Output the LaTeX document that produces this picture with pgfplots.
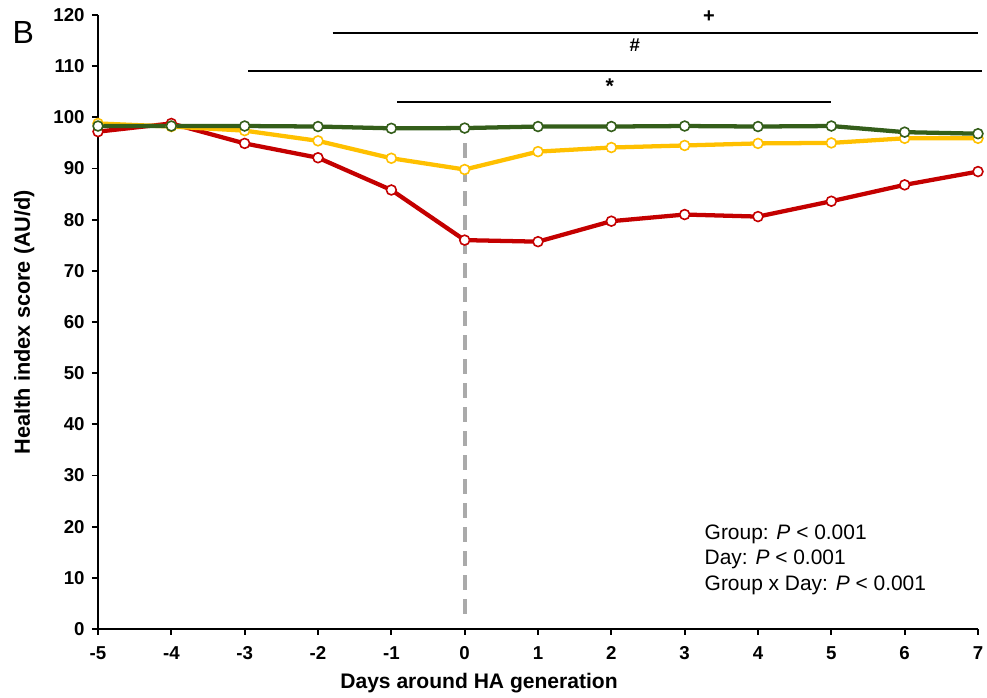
\documentclass[border=0pt]{standalone}
\usepackage{fontspec}
\setmainfont{Liberation Sans}
\usepackage{pgfplots}
\pgfplotsset{compat=1.18}
\definecolor{cred}{RGB}{196,0,0}
\definecolor{cyel}{RGB}{255,192,0}
\definecolor{cgrn}{RGB}{52,94,26}
\definecolor{cgray}{RGB}{170,170,170}
\begin{document}
\begin{tikzpicture}
\begin{axis}[name=ax, scale only axis, width=660pt, height=460.5pt,
  xmin=-5, xmax=7, ymin=0, ymax=120,
  axis x line*=bottom, axis y line*=left,
  axis line style={line width=1.4pt, -},
  xtick={-5,...,7}, xticklabels={-5,-4,-3,-2,-1,0,1,2,3,4,5,6,7},
  ytick={0,10,...,120}, yticklabels={0,10,20,30,40,50,60,70,80,90,100,110,120},
  tick align=outside, major tick length=4.5pt,
  tick style={line width=1.3pt, black},
  ticklabel style={font=\fontsize{14}{16}\selectfont\bfseries},
  xticklabel style={yshift=-5pt},
  yticklabel style={xshift=-2pt},
  clip=false,
  mark options={solid, fill=white, line width=1.2pt},
]
\addplot[cgray, line width=2.8pt, dash pattern=on 11pt off 7pt] coordinates {(0,94.9) (0,1.4)};
\addplot[cred, line width=3.2pt, mark=*, mark size=3.7pt] coordinates {
(-5,97.2) (-4,98.8) (-3,94.9) (-2,92.1) (-1,85.8) (0,76.0) (1,75.7) (2,79.7) (3,81.0) (4,80.6) (5,83.6) (6,86.8) (7,89.4)};
\addplot[cyel, line width=3.2pt, mark=*, mark size=3.7pt] coordinates {
(-5,98.8) (-4,98.2) (-3,97.4) (-2,95.4) (-1,92.0) (0,89.8) (1,93.3) (2,94.1) (3,94.5) (4,94.9) (5,95.0) (6,95.9) (7,95.9)};
\addplot[cgrn, line width=3.2pt, mark=*, mark size=3.7pt] coordinates {
(-5,98.3) (-4,98.3) (-3,98.3) (-2,98.2) (-1,97.85) (0,97.9) (1,98.2) (2,98.2) (3,98.3) (4,98.2) (5,98.3) (6,97.1) (7,96.8)};
% significance bars
\draw[line width=1.3pt] (axis cs:-1.80,116.5) -- (axis cs:7.0,116.5);
\draw[line width=1.3pt] (axis cs:-2.95,109.0) -- (axis cs:7.06,109.0);
\draw[line width=1.3pt] (axis cs:-0.92,103.0) -- (axis cs:5.0,103.0);
\node[font=\fontsize{15}{18}\selectfont\bfseries] at (axis cs:3.33,119.6) {+};
\node[font=\fontsize{14}{16}\selectfont\bfseries] at (axis cs:2.32,114.1) {\#};
\node[font=\fontsize{16}{18}\selectfont\bfseries] at (axis cs:1.98,106.0) {*};
% statistics
\node[anchor=north west, align=left, inner sep=0pt, font=\fontsize{15.7}{19}\selectfont] at (axis cs:3.27,20.4)
  {Group: \textit{P} < 0.001\\Day: \textit{P} < 0.001\\Group x Day: \textit{P} < 0.001};
% panel letter
\node[font=\fontsize{24}{28}\selectfont] at (axis cs:-6.02,116.5) {B};
% axis labels
\node[anchor=base, font=\fontsize{15.8}{19}\selectfont\bfseries] at (rel axis cs:0.433,0) [yshift=-45pt] {Days around HA generation};
\node[xshift=-51pt, rotate=90, anchor=base, font=\fontsize{16.3}{19}\selectfont\bfseries] at (rel axis cs:0,0.5) {Health index score (AU/d)};
\end{axis}
\pgfresetboundingbox
\path ([shift={(-73.5pt,-51.75pt)}]ax.south west) rectangle ([shift={(6.75pt,11.25pt)}]ax.north east);
\end{tikzpicture}
\end{document}
